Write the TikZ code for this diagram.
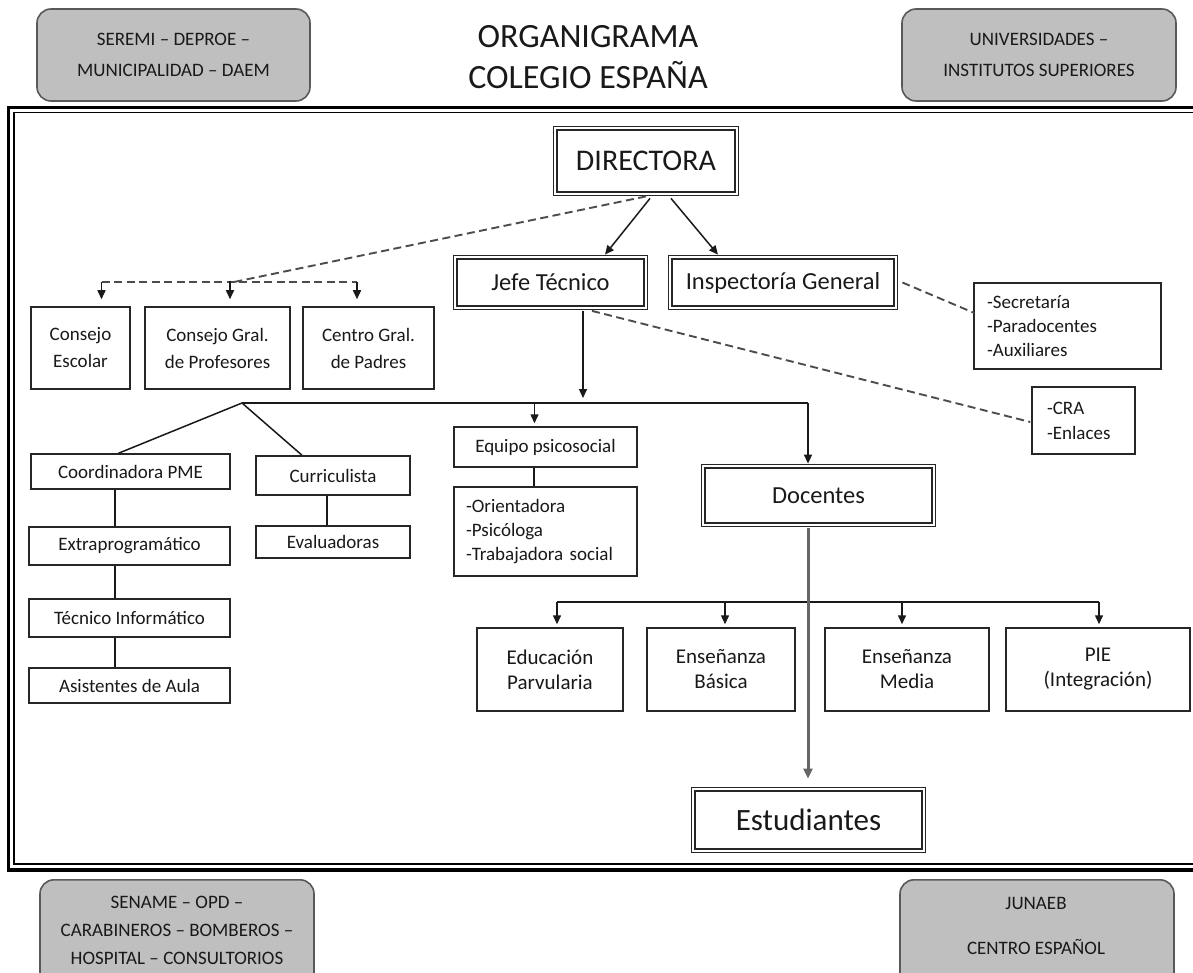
\documentclass[tikz,border=0pt]{standalone}
\usepackage{fontspec}
\setmainfont{Carlito}
\usetikzlibrary{arrows.meta,calc}
\begin{document}
\begin{tikzpicture}[x=1pt,y=-1pt,
  box/.style={draw=black!85, line width=1.5pt, fill=white, inner sep=0pt, align=center, text=black!90, font=\fontsize{19}{27}\selectfont},
  listbox/.style={box, align=left, font=\fontsize{19}{24}\selectfont},
  dbl/.style={draw=black!85, double, double distance=2.1pt, line width=1.3pt, inner sep=0pt, align=center, text=black!90},
  gbox/.style={draw=black!65, fill=black!25, rounded corners=14pt, line width=1.6pt, inner sep=0pt, align=center, text=black!90, font=\fontsize{19}{31}\selectfont},
  gtext/.style={inner sep=0pt, align=center, text=black!90},
  conn/.style={line width=1.5pt, draw=black!90},
  arr/.style={conn, -{Triangle[length=9pt,width=8pt]}},
  dsh/.style={line width=1.9pt, draw=black!70, dash pattern=on 8pt off 4.5pt},
  trunk/.style={line width=3pt, draw=black!55, -{Triangle[length=10pt,width=9pt]}, color=black!60}
]
\useasboundingbox (0,0) rectangle (1193,973);

% outer frame
\draw[line width=3.2pt] (1200,107.75) -- (8.5,107.75) -- (8.5,870) -- (1200,870);
\draw[line width=1.7pt] (1200,112.5) -- (14,112.5) -- (14,864) -- (1200,864);

% header / footer
\node[gbox, minimum width=273pt, minimum height=92pt] (seremi) at (173.5,55) {SEREMI – DEPROE –\\MUNICIPALIDAD – DAEM};
\node[gbox, minimum width=274pt, minimum height=92pt] (univ) at (1039,55) {UNIVERSIDADES –\\INSTITUTOS SUPERIORES};
\node[gtext, font=\fontsize{34}{41}\selectfont] (title) at (588,57) {ORGANIGRAMA\\COLEGIO ESPAÑA};
\node[gbox, minimum width=274pt, minimum height=130pt, anchor=north] (sename) at (177,879) {};
\node[gtext, font=\fontsize{19}{28}\selectfont] (senametext) at (177,930) {SENAME – OPD –\\CARABINEROS – BOMBEROS –\\HOSPITAL – CONSULTORIOS};
\node[gbox, minimum width=274pt, minimum height=130pt, anchor=north] (junaeb) at (1037,879) {};
\node[gtext, font=\fontsize{19}{45}\selectfont] (junaebtext) at (1036,925.5) {JUNAEB\\CENTRO ESPAÑOL};

% main nodes
\node[dbl, minimum width=181.5pt, minimum height=65.5pt, font=\fontsize{30}{36}\selectfont] (dir) at (646,161) {DIRECTORA};
\node[dbl, minimum width=190.5pt, minimum height=50.5pt, font=\fontsize{24.5}{30}\selectfont] (jefe) at (550.5,282.5) {Jefe Técnico};
\node[dbl, minimum width=225.5pt, minimum height=50.5pt, font=\fontsize{24.5}{30}\selectfont] (insp) at (783,282.5) {Inspectoría General};
\node[dbl, minimum width=230.5pt, minimum height=58.5pt, font=\fontsize{24.5}{30}\selectfont] (doc) at (818.5,495.5) {Docentes};
\node[dbl, minimum width=230.5pt, minimum height=61.5pt, font=\fontsize{31}{36}\selectfont] (est) at (808.5,820) {Estudiantes};

\node[box, minimum width=99pt, minimum height=82pt] (ce) at (80.5,348) {Consejo\\Escolar};
\node[box, minimum width=145pt, minimum height=82pt] (cg) at (217.5,348) {Consejo Gral.\\de Profesores};
\node[box, minimum width=131pt, minimum height=82pt] (cp) at (368.5,348) {Centro Gral.\\de Padres};

\node[box, minimum width=199pt, minimum height=35pt] (pme) at (130.5,471.5) {Coordinadora PME};
\node[box, minimum width=201pt, minimum height=38pt] (extra) at (129.5,546) {Extraprogramático};
\node[box, minimum width=201pt, minimum height=38pt] (tec) at (129.5,618) {Técnico Informático};
\node[box, minimum width=201pt, minimum height=35pt] (asis) at (129.5,685.5) {Asistentes de Aula};
\node[box, minimum width=154pt, minimum height=39pt] (cur) at (333,475.5) {Curriculista};
\node[box, minimum width=154pt, minimum height=32pt] (eva) at (333,542) {Evaluadoras};

\node[box, minimum width=183pt, minimum height=40pt] (eq) at (545.5,447) {Equipo psicosocial};
\node[listbox, minimum width=183pt, minimum height=89pt, text width=159pt] (eqlist) at (545.5,531.5) {-Orientadora\\-Psicóloga\\-Trabajadora social};
\node[listbox, minimum width=187pt, minimum height=86pt, text width=161pt] (sec) at (1067.5,326) {-Secretaría\\-Paradocentes\\-Auxiliares};
\node[listbox, minimum width=103pt, minimum height=67pt, text width=73pt, font=\fontsize{19}{25}\selectfont] (cra) at (1083.5,420.5) {-CRA\\-Enlaces};

\node[box, minimum width=146pt, minimum height=83pt, font=\fontsize{21}{25}\selectfont] (edu) at (550,669.5) {Educación\\Parvularia};
\node[box, minimum width=148pt, minimum height=83pt, font=\fontsize{21}{25}\selectfont] (bas) at (721,669.5) {Enseñanza\\Básica};
\node[box, minimum width=164pt, minimum height=83pt, font=\fontsize{21}{25}\selectfont] (med) at (907,669.5) {Enseñanza\\Media};
\node[box, minimum width=184pt, minimum height=83pt, font=\fontsize{21}{25}\selectfont] (pie) at (1098,669.5) {PIE\\(Integración)};

% Directora links
\draw[arr] ($(dir.south)+(4,4)$) -- ($(jefe.north)+(54.5,-2)$);
\draw[arr] ($(dir.south)+(25,4)$) -- ($(insp.north)+(-65,-2)$);

% dashed to councils
\coordinate (dj) at (234,282);
\coordinate (dl) at (101.5,282);
\coordinate (dr) at (357,282);
\draw[dsh] ($(dir.south)+(0,2)$) -- (dj);
\draw[dsh] (dl) -- (dr);
\draw[arr] (dl) -- ($(ce.north)+(21,-7)$);
\draw[arr] ($(cg.north)+(12.5,-25)$) -- ($(cg.north)+(12.5,-7)$);
\draw[arr] (dr) -- ($(cp.north)+(-11.5,-7)$);

% dashed side links
\draw[dsh] ($(insp.east)+(6,0)$) -- ($(sec.west)+(1,-13)$);
\draw[dsh] ($(jefe.south)+(41.5,2.5)$) -- ($(cra.west)+(-1,1.5)$);

% Jefe tecnico branch
\coordinate (hb) at (583,398);
\coordinate (hl) at (242,403);
\coordinate (hr) at (808,403);
\draw[arr] ($(jefe.south)+(32.5,2.25)$) -- (hb);
\draw[conn] (hl) -- (hr);
\draw[arr] (hr) -- ($(doc.north)+(-10.5,-2)$);
\draw[arr] ($(eq.north)+(-11,-24)$) -- ($(eq.north)+(-11,-3)$);
\draw[conn] (hl) -- ($(pme.north)+(-12,0)$);
\draw[conn] (hl) -- ($(cur.north)+(-31,0)$);

% vertical chains
\draw[conn] ($(pme.south)+(-15.5,0)$) -- ($(extra.north)+(-14.5,0)$);
\draw[conn] ($(extra.south)+(-14.5,0)$) -- ($(tec.north)+(-14.5,0)$);
\draw[conn] ($(tec.south)+(-14.5,0)$) -- ($(asis.north)+(-14.5,0)$);
\draw[conn] ($(cur.south)+(-6,0)$) -- ($(eva.north)+(-6,0)$);
\draw[conn] ($(eq.south)+(-11.5,0)$) -- ($(eqlist.north)+(-11.5,0)$);

% Docentes -> levels
\coordinate (ll) at (557,602);
\coordinate (lr) at (1099,602);
\draw[conn] (ll) -- (lr);
\draw[arr] (ll) -- ($(edu.north)+(7,-3)$);
\draw[arr] ($(bas.north)+(4,-26)$) -- ($(bas.north)+(4,-3)$);
\draw[arr] ($(med.north)+(-5,-26)$) -- ($(med.north)+(-5,-3)$);
\draw[arr] (lr) -- ($(pie.north)+(1,-3)$);
\draw[trunk] ($(doc.south)+(-10.5,2.25)$) -- ($(est.north)+(-0.5,-10)$);
\end{tikzpicture}
\end{document}
